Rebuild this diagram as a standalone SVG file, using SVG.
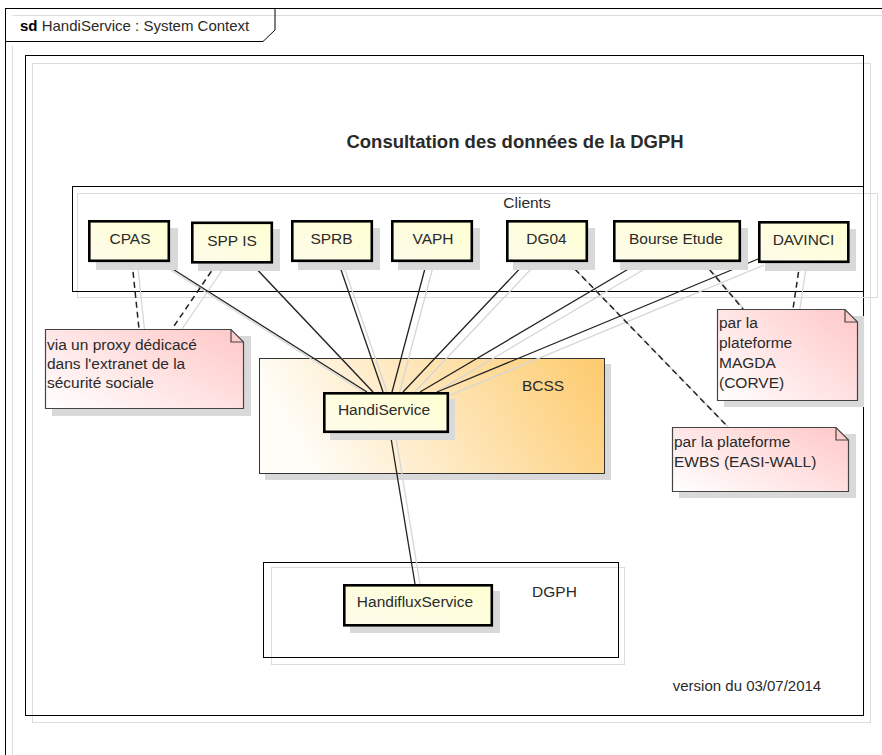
<svg xmlns="http://www.w3.org/2000/svg" width="882" height="755" viewBox="0 0 882 755">
<defs>
<linearGradient id="gNode" x1="0" y1="1" x2="1" y2="0">
<stop offset="0" stop-color="#fdfbea"/>
<stop offset="1" stop-color="#ffffd2"/>
</linearGradient>
<linearGradient id="gNote" x1="0" y1="1" x2="1" y2="0.2">
<stop offset="0" stop-color="#ffffff"/>
<stop offset="1" stop-color="#ffcccc"/>
</linearGradient>
<linearGradient id="gBcss" x1="0" y1="0.2" x2="1" y2="0">
<stop offset="0" stop-color="#fffdf8"/>
<stop offset="1" stop-color="#fdca6c"/>
</linearGradient>
<style>
text{font-family:"Liberation Sans",Arial,sans-serif;fill:#2a2a2a}
.lbl{font-size:15.5px;text-anchor:middle}
.nt{font-size:15.5px}
.node{fill:url(#gNode);stroke:#000;stroke-width:2.6}
.sh{fill:#d9d9d9}
.note{fill:url(#gNote);stroke:#444;stroke-width:1.2}
.fold{fill:none;stroke:#444;stroke-width:1.2}
.con{stroke:#222;stroke-width:1.3;fill:none}
.dash{stroke:#222;stroke-width:1.5;stroke-dasharray:6 4;fill:none}
.csh{stroke:#d6d6d6;stroke-width:1.3;fill:none}
.frm{fill:none;stroke:#000;stroke-width:1}
.gfrm{fill:none;stroke:#dcdcdc;stroke-width:1}
</style>
</defs>
<rect width="882" height="755" fill="#fff"/>
<g id="frame">
<path class="gfrm" d="M12.5,46 V755 M12.5,15.5 H882"/>
<rect class="frm" x="5.5" y="8.5" width="900" height="800"/>
<path class="frm" d="M5.5,41.5 H263 L275,30 V8.5"/>
<text x="20" y="31" font-size="15"><tspan font-weight="bold" fill="#000">sd</tspan> HandiService : System Context</text>
</g>
<g id="inner-frame">
<rect class="gfrm" x="32.5" y="63.5" width="838" height="659"/>
<rect class="frm" x="25.5" y="55.5" width="838" height="660"/>
<text x="515" y="148" font-size="18.5" font-weight="bold" text-anchor="middle" fill="#000">Consultation des données de la DGPH</text>
<text x="747" y="691" font-size="15" text-anchor="middle">version du 03/07/2014</text>
</g>
<g id="clients">
<rect class="gfrm" x="77.5" y="193.5" width="800" height="104"/>
<rect class="frm" x="72.5" y="186.5" width="791" height="105"/>
<text class="lbl" x="527" y="208">Clients</text>
</g>
<g id="bcss">
<rect class="sh" x="265" y="364" width="346" height="116"/>
<rect x="259.5" y="358.5" width="345" height="115" fill="url(#gBcss)" stroke="#333" stroke-width="1"/>
<text class="lbl" x="543" y="391">BCSS</text>
</g>
<g id="dgph">
<rect class="gfrm" x="271.5" y="567.5" width="353" height="97"/>
<rect class="frm" x="263.5" y="562.5" width="355" height="95"/>
<text class="lbl" x="554.5" y="597">DGPH</text>
</g>
<g id="connectors">
<g transform="translate(6,6)">
<line class="csh" x1="160" y1="261" x2="367" y2="392"/>
<line class="csh" x1="250" y1="262" x2="373" y2="392"/>
<line class="csh" x1="338" y1="261" x2="383" y2="392"/>
<line class="csh" x1="427" y1="261" x2="392" y2="392"/>
<line class="csh" x1="527" y1="261" x2="403" y2="392"/>
<line class="csh" x1="642" y1="261" x2="420" y2="392"/>
<line class="csh" x1="758" y1="259" x2="437" y2="392"/>
<line class="csh" x1="390" y1="432" x2="415" y2="584"/>
<line class="csh" x1="132" y1="262" x2="139" y2="329"/>
<line class="csh" x1="217" y1="263" x2="172" y2="329"/>
<line class="csh" x1="568" y1="262" x2="728" y2="427"/>
<line class="csh" x1="703" y1="262" x2="743" y2="309"/>
<line class="csh" x1="800" y1="262" x2="793" y2="309"/>
</g>
<line class="con" x1="160" y1="261" x2="367" y2="392"/>
<line class="con" x1="250" y1="262" x2="373" y2="392"/>
<line class="con" x1="338" y1="261" x2="383" y2="392"/>
<line class="con" x1="427" y1="261" x2="392" y2="392"/>
<line class="con" x1="527" y1="261" x2="403" y2="392"/>
<line class="con" x1="642" y1="261" x2="420" y2="392"/>
<line class="con" x1="758" y1="259" x2="437" y2="392"/>
<line class="con" x1="390" y1="432" x2="415" y2="584"/>
<line class="dash" x1="132" y1="262" x2="139" y2="329"/>
<line class="dash" x1="217" y1="263" x2="172" y2="329"/>
<line class="dash" x1="568" y1="262" x2="728" y2="427"/>
<line class="dash" x1="703" y1="262" x2="743" y2="309"/>
<line class="dash" x1="800" y1="262" x2="793" y2="309"/>
</g>
<g id="n-cpas"><rect class="sh" x="96" y="228" width="82" height="42"/><rect class="node" x="89.3" y="221.3" width="79.5" height="39.5"/><text class="lbl" x="130" y="244">CPAS</text></g>
<g id="n-sppis"><rect class="sh" x="198" y="229" width="82" height="42"/><rect class="node" x="192.3" y="222.8" width="79.5" height="39.5"/><text class="lbl" x="232" y="246">SPP IS</text></g>
<g id="n-sprb"><rect class="sh" x="298" y="228" width="82" height="42"/><rect class="node" x="292.3" y="221.3" width="79.5" height="39.5"/><text class="lbl" x="331.5" y="244">SPRB</text></g>
<g id="n-vaph"><rect class="sh" x="398" y="228" width="82" height="42"/><rect class="node" x="392.3" y="221.3" width="79.5" height="39.5"/><text class="lbl" x="433" y="244">VAPH</text></g>
<g id="n-dg04"><rect class="sh" x="513" y="228" width="82" height="42"/><rect class="node" x="507.3" y="221.3" width="79.5" height="39.5"/><text class="lbl" x="546.5" y="244">DG04</text></g>
<g id="n-bourse"><rect class="sh" x="620" y="228" width="128" height="42"/><rect class="node" x="614.3" y="221.3" width="125.5" height="39.5"/><text class="lbl" x="676" y="244">Bourse Etude</text></g>
<g id="n-davinci"><rect class="sh" x="765" y="229" width="91" height="42"/><rect class="node" x="759.3" y="222.3" width="89" height="39.5"/><text class="lbl" x="803.5" y="245">DAVINCI</text></g>
<g id="n-handiservice"><rect class="sh" x="330" y="399" width="125" height="41"/><rect class="node" x="324.3" y="393.3" width="123.5" height="38.5"/><text class="lbl" x="384" y="415">HandiService</text></g>
<g id="n-handiflux"><rect class="sh" x="350" y="591" width="150" height="42"/><rect class="node" x="344.3" y="585.3" width="147.5" height="40"/><text class="lbl" x="415" y="607">HandifluxService</text></g>
<g id="note-proxy">
<rect class="sh" x="52" y="336" width="199" height="80"/>
<path class="note" d="M45.5,329.5 H231 L243.5,342 V408.5 H45.5 Z"/>
<path class="fold" d="M231,329.5 V342 H243.5"/>
<text class="nt" x="47" y="350">via un proxy dédicacé</text>
<text class="nt" x="47" y="369">dans l'extranet de la</text>
<text class="nt" x="47" y="388">sécurité sociale</text>
</g>
<g id="note-magda">
<rect class="sh" x="724" y="316" width="140" height="91"/>
<path class="note" d="M717.5,309.5 H845 L857.5,322 V400.5 H717.5 Z"/>
<path class="fold" d="M845,309.5 V322 H857.5"/>
<text class="nt" x="719" y="328">par la</text>
<text class="nt" x="719" y="348">plateforme</text>
<text class="nt" x="719" y="368">MAGDA</text>
<text class="nt" x="719" y="388">(CORVE)</text>
</g>
<g id="note-ewbs">
<rect class="sh" x="679" y="434" width="177" height="64"/>
<path class="note" d="M672.5,427.5 H836 L848.5,440 V491.5 H672.5 Z"/>
<path class="fold" d="M836,427.5 V440 H848.5"/>
<text class="nt" x="674" y="447">par la plateforme</text>
<text class="nt" x="674" y="467">EWBS (EASI-WALL)</text>
</g>
</svg>
